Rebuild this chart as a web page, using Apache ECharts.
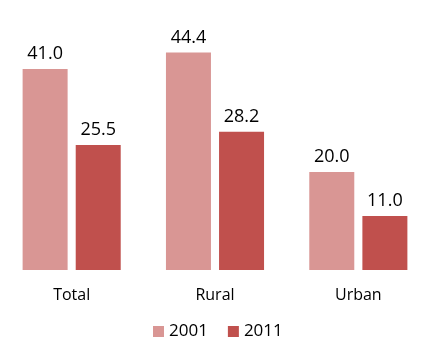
<!DOCTYPE html>
<html>
<head>
<meta charset="utf-8">
<script src="https://cdn.jsdelivr.net/npm/echarts@6/dist/echarts.min.js"></script>
<style>
  html, body { margin: 0; padding: 0; background: #fff; overflow: hidden; }
  #chart { width: 430px; height: 344px; }
</style>
</head>
<body>
<div id="chart"></div>
<script>
// Share of households by area, two census years
const categories = ['Total', 'Rural', 'Urban'];
const years = ['2001', '2011'];
const values2001 = [41.0, 44.4, 20.0];
const values2011 = [25.5, 28.2, 11.0];

const colors = ['#D99694', '#C0504D'];
const fontFamily = '"Open Sans", "Liberation Sans", sans-serif';

const chart = echarts.init(document.getElementById('chart'));

function barSeries(name, data, color) {
  return {
    name: name,
    type: 'bar',
    data: data,
    barWidth: 45,
    barGap: '18%',
    itemStyle: { color: color },
    label: {
      show: true,
      position: 'top',
      distance: 6,
      color: '#000',
      fontSize: 18,
      fontFamily: fontFamily,
      formatter: p => p.value.toFixed(1)
    }
  };
}

chart.setOption({
  animation: false,
  grid: { left: 0, right: 0, top: 25, height: 245, containLabel: false },
  legend: {
    data: years,
    top: 318,
    left: 148,
    itemWidth: 11,
    itemHeight: 11,
    itemGap: 20,
    icon: 'rect',
    textStyle: { color: '#000', fontSize: 17, fontFamily: fontFamily }
  },
  xAxis: {
    type: 'category',
    data: categories,
    axisLine: { show: false },
    axisTick: { show: false },
    axisLabel: { color: '#000', fontSize: 16, fontFamily: fontFamily, margin: 17 }
  },
  yAxis: {
    type: 'value',
    min: 0,
    max: 50,
    show: false
  },
  series: [
    barSeries(years[0], values2001, colors[0]),
    barSeries(years[1], values2011, colors[1])
  ]
});
</script>
</body>
</html>
